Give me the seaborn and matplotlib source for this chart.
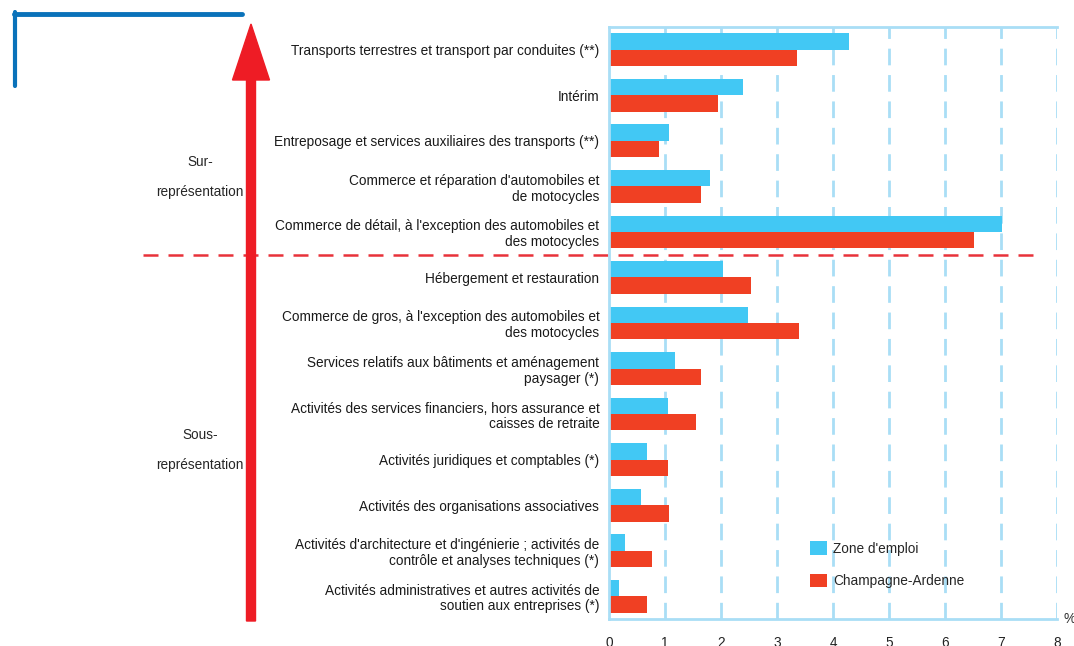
import pandas as pd
import matplotlib as mpl
from matplotlib import pyplot as plt
from matplotlib.patches import FancyArrow
from matplotlib.lines import Line2D
import seaborn as sns

# secteurs, du plus sur-représenté au plus sous-représenté
secteurs = [
    "Transports terrestres et transport par conduites (**)",
    "Intérim",
    "Entreposage et services auxiliaires des transports (**)",
    "Commerce et réparation d'automobiles et\nde motocycles",
    "Commerce de détail, à l'exception des automobiles et\ndes motocycles",
    "Hébergement et restauration",
    "Commerce de gros, à l'exception des automobiles et\ndes motocycles",
    "Services relatifs aux bâtiments et aménagement\npaysager (*)",
    "Activités des services financiers, hors assurance et\ncaisses de retraite",
    "Activités juridiques et comptables (*)",
    "Activités des organisations associatives",
    "Activités d'architecture et d'ingénierie ; activités de\ncontrôle et analyses techniques (*)",
    "Activités administratives et autres activités de\nsoutien aux entreprises (*)",
]
zone_emploi = [4.29, 2.40, 1.08, 1.81, 7.02, 2.03, 2.49, 1.17, 1.05, 0.67, 0.58, 0.28, 0.17]
champagne_ardenne = [3.35, 1.94, 0.90, 1.64, 6.52, 2.53, 3.40, 1.64, 1.55, 1.05, 1.08, 0.76, 0.67]
series = ["Zone d'emploi", "Champagne-Ardenne"]
x_ticks = [0, 1, 2, 3, 4, 5, 6, 7, 8]

BLUE = "#42c8f4"
RED = "#f04023"
GRID = "#a9def6"

df = pd.DataFrame({
    "secteur": secteurs * 2,
    "part": zone_emploi + champagne_ardenne,
    "serie": [series[0]] * len(secteurs) + [series[1]] * len(secteurs),
})

sns.set_style("white")
plt.rcParams["font.family"] = ["Liberation Sans", "DejaVu Sans"]

W, H = 1074, 646
fig = plt.figure(figsize=(W / 100, H / 100), dpi=100)
ax = fig.add_axes([609 / W, 1 - 619 / H, 448 / W, 592 / H])

sns.barplot(data=df, y="secteur", x="part", hue="serie", order=secteurs,
            hue_order=series, palette=[BLUE, RED], width=0.72,
            saturation=1, orient="h", linewidth=0, ax=ax)

ax.set_xlim(0, 8)
ax.set_ylim(12.5, -0.5)
ax.set_xticks(x_ticks)
ax.set_xticklabels([str(t) for t in x_ticks])
ax.set_xlabel("")
ax.set_ylabel("")
ax.grid(False)
for t in x_ticks[1:]:
    ax.axvline(t, color=GRID, lw=2, ls=(0, (6, 3.5)), zorder=0)

for side in ("left", "top", "bottom"):
    ax.spines[side].set_color(GRID)
    ax.spines[side].set_linewidth(2)
ax.spines["right"].set_visible(False)
ax.tick_params(axis="x", direction="inout", length=9, width=2, color=GRID,
               pad=8, labelsize=9.8, labelcolor="#222222")
ax.tick_params(axis="y", length=0, pad=7, labelsize=9.8, labelcolor="#1a1a1a")
for lab in ax.get_yticklabels():
    lab.set_multialignment("right")
    lab.set_linespacing(1.15)
ax.text(1.015, 0, "%", transform=ax.transAxes, ha="left", va="center",
        fontsize=9.8, color="#333333")

# séparation sur / sous-représentation
ax.axhline(4.5, xmin=(143 - 609) / 448, xmax=(1043 - 609) / 448,
           color="#e8323a", lw=1.8, ls=(0, (6, 4)), clip_on=False)

# légende
ax.legend(loc="upper left", bbox_to_anchor=(0.422, 0.152), frameon=False,
          handlelength=1.2, handleheight=1.2, handletextpad=0.45,
          labelspacing=1.3, fontsize=9.8)

# flèche rouge verticale
fig.patches.append(FancyArrow(251 / W, 1 - 621 / H, 0, (621 - 24) / H,
                              width=9 / W, head_width=37 / W,
                              head_length=56 / H, length_includes_head=True,
                              color="#ee1c25", transform=fig.transFigure,
                              figure=fig))
for y, txt in [(162, "Sur-"), (192, "représentation"),
               (435, "Sous-"), (465, "représentation")]:
    fig.text(200 / W, 1 - y / H, txt, ha="center", va="center", fontsize=9.8)

# coin bleu décoratif
fig.add_artist(Line2D([14 / W, 242 / W], [1 - 13.5 / H, 1 - 13.5 / H],
                      color="#0a72ba", lw=3.5, transform=fig.transFigure))
fig.add_artist(Line2D([15 / W, 15 / W], [1 - 12 / H, 1 - 86 / H],
                      color="#0a72ba", lw=3, transform=fig.transFigure))

fig.savefig("out.png", dpi=100)
